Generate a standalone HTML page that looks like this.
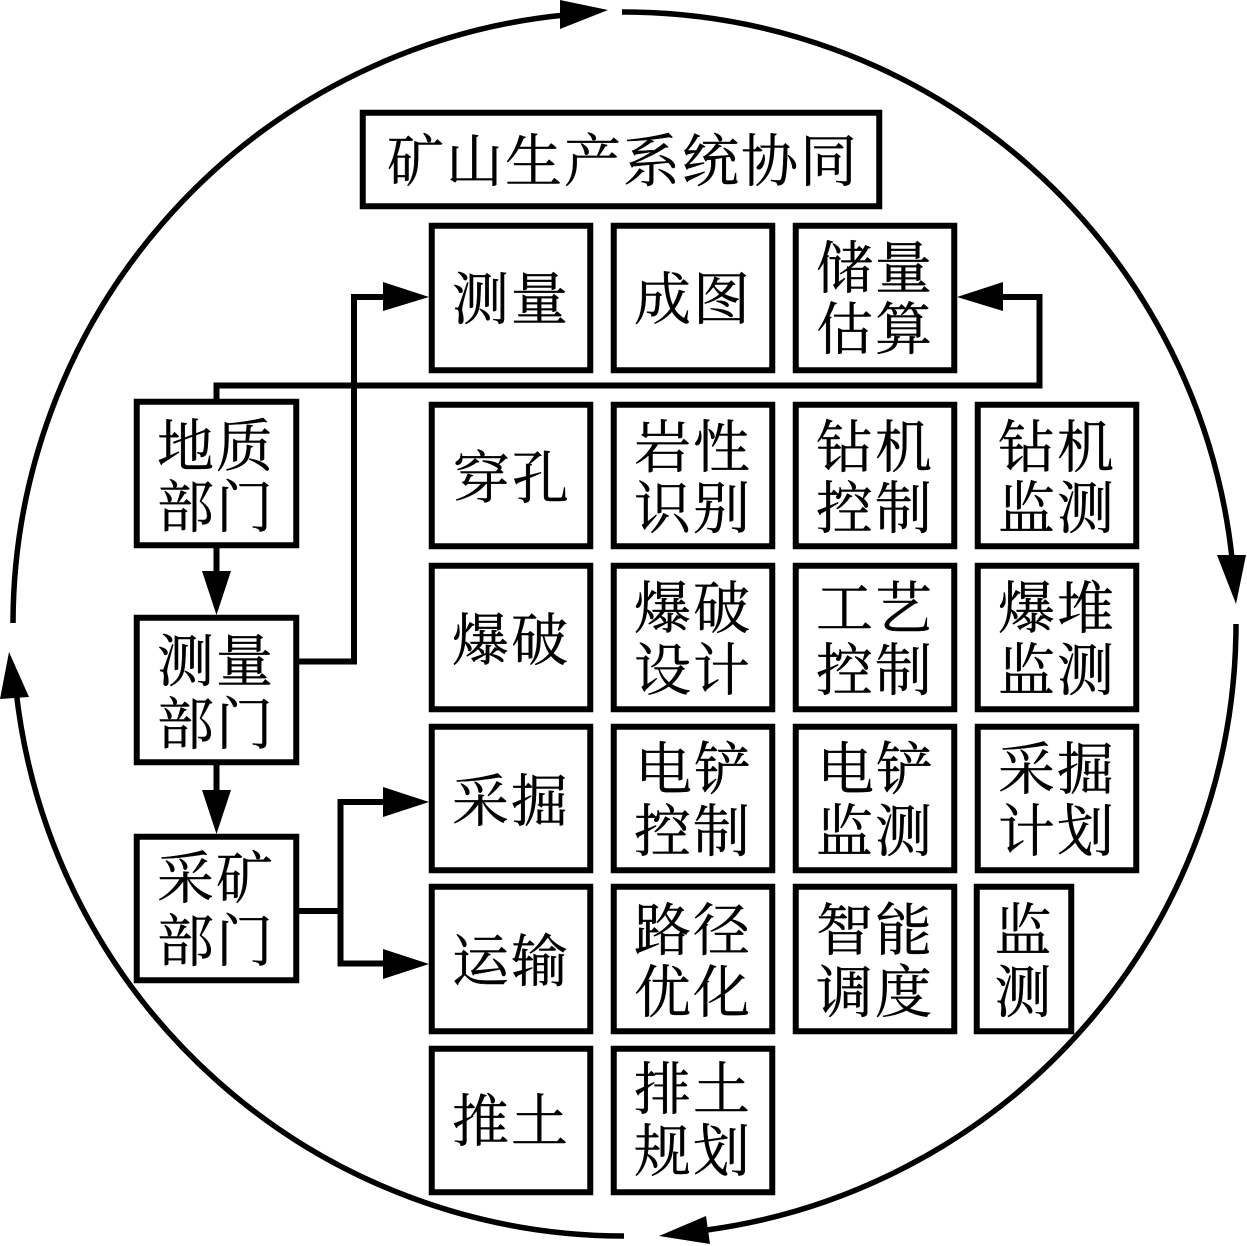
<!DOCTYPE html>
<html><head><meta charset="utf-8"><style>
html,body{margin:0;padding:0;background:#fff}
svg{display:block}
text{font-family:"Liberation Serif","Noto Serif CJK SC",serif;font-size:57px;letter-spacing:2px;text-anchor:middle;fill:#000;stroke:#000;stroke-width:.4}
rect{fill:none;stroke:#000;stroke-width:6}
path{fill:none;stroke:#000;stroke-width:6}
.c{stroke-width:5.5}
polygon{fill:#000}
</style></head><body>
<svg width="1247" height="1246" viewBox="0 0 1247 1246" xmlns="http://www.w3.org/2000/svg">
<path class="c" d="M13,623 A612,612 0 0 1 565,15"/>
<path class="c" d="M622,12 A612,612 0 0 1 1232,558"/>
<path class="c" d="M1236,624 A612,612 0 0 1 707,1230"/>
<path class="c" d="M624,1236 A612,612 0 0 1 16,690"/>
<polygon points="608,10 560,0 560,29"/>
<polygon points="1236,604 1217,555 1246,555"/>
<polygon points="659,1236 706,1216 710,1244"/>
<polygon points="9,652 0,699 29,697"/>

<rect x="362.75" y="112.75" width="516.5" height="93.5"/>
<text x="623" y="181">矿山生产系统协同</text>

<rect x="431.75" y="225.75" width="158.5" height="144.5"/>
<rect x="613.75" y="225.75" width="158.5" height="144.5"/>
<rect x="795.75" y="225.75" width="158.5" height="144.5"/>

<rect x="431.75" y="404.75" width="158.5" height="141.5"/>
<rect x="613.75" y="404.75" width="158.5" height="141.5"/>
<rect x="795.75" y="404.75" width="158.5" height="141.5"/>
<rect x="977.75" y="404.75" width="158.5" height="141.5"/>

<rect x="431.75" y="565.75" width="158.5" height="143.5"/>
<rect x="613.75" y="565.75" width="158.5" height="143.5"/>
<rect x="795.75" y="565.75" width="158.5" height="143.5"/>
<rect x="977.75" y="565.75" width="158.5" height="143.5"/>

<rect x="431.75" y="726.75" width="158.5" height="143.5"/>
<rect x="613.75" y="726.75" width="158.5" height="143.5"/>
<rect x="795.75" y="726.75" width="158.5" height="143.5"/>
<rect x="977.75" y="726.75" width="158.5" height="143.5"/>

<rect x="431.75" y="886.75" width="158.5" height="144.5"/>
<rect x="613.75" y="886.75" width="158.5" height="144.5"/>
<rect x="795.75" y="886.75" width="158.5" height="144.5"/>
<rect x="976.75" y="886.75" width="94.5" height="144.5"/>

<rect x="431.75" y="1048.75" width="158.5" height="143.5"/>
<rect x="613.75" y="1048.75" width="158.5" height="143.5"/>

<rect x="136.75" y="401.75" width="159.5" height="143.5"/>
<rect x="136.75" y="617.75" width="159.5" height="144.5"/>
<rect x="136.75" y="836.75" width="159.5" height="143.5"/>

<path d="M216.5,548 V575"/>
<polygon points="216.5,615 202,571 231,571"/>
<path d="M216.5,765 V795"/>
<polygon points="216.5,834 202,790 231,790"/>
<path d="M299,661.5 H354 V297 H390"/>
<polygon points="429,297 383,282 383,311"/>
<path d="M216.5,399 V385.5 H1039.5 V297 H995"/>
<polygon points="957,297 1003,282 1003,311"/>
<path d="M299,911 H340.5"/>
<path d="M390,802 H340.5 V963.5 H390"/>
<polygon points="429,802 383,787 383,817"/>
<polygon points="429,964 383,949 383,979"/>

<text x="511" y="319">测量</text>
<text x="693" y="319">成图</text>
<text x="875" y="288">储量</text>
<text x="875" y="349">估算</text>

<text x="512" y="498">穿孔</text>
<text x="693" y="467">岩性</text>
<text x="693" y="528">识别</text>
<text x="875" y="467">钻机</text>
<text x="875" y="528">控制</text>
<text x="1057" y="467">钻机</text>
<text x="1057" y="528">监测</text>

<text x="511" y="660">爆破</text>
<text x="693" y="628">爆破</text>
<text x="693" y="690">设计</text>
<text x="875" y="628">工艺</text>
<text x="875" y="690">控制</text>
<text x="1057" y="628">爆堆</text>
<text x="1057" y="690">监测</text>

<text x="511" y="821">采掘</text>
<text x="694" y="789">电铲</text>
<text x="693" y="851">控制</text>
<text x="876" y="789">电铲</text>
<text x="875" y="851">监测</text>
<text x="1057" y="789">采掘</text>
<text x="1057" y="851">计划</text>

<text x="511" y="981">运输</text>
<text x="693" y="950">路径</text>
<text x="693" y="1012">优化</text>
<text x="875" y="950">智能</text>
<text x="875" y="1012">调度</text>
<text x="1024" y="950">监</text>
<text x="1024" y="1012">测</text>

<text x="511" y="1141">推土</text>
<text x="693" y="1109">排土</text>
<text x="693" y="1171">规划</text>

<text x="216" y="466">地质</text>
<text x="216" y="527">部门</text>
<text x="216" y="681">测量</text>
<text x="216" y="744">部门</text>
<text x="216" y="898">采矿</text>
<text x="216" y="961">部门</text>
</svg>
</body></html>
